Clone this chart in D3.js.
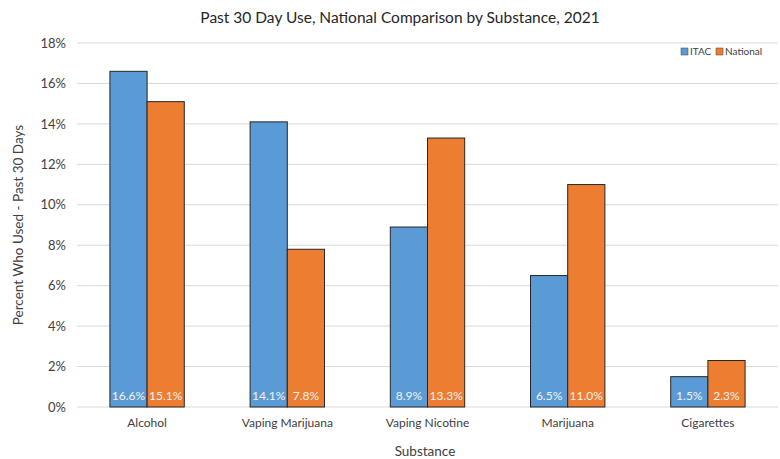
<!DOCTYPE html>
<html><head><meta charset="utf-8">
<script src="https://cdn.jsdelivr.net/npm/d3@7"></script>
<style>body{margin:0;background:#fff;font-family:Lato,"Open Sans",sans-serif;}</style>
</head><body>
<svg id="c" width="780" height="459"></svg>
<script>
const categories = ["Alcohol","Vaping Marijuana","Vaping Nicotine","Marijuana","Cigarettes"];
const seriesNames = ["ITAC","National"];
const itac = [16.6,14.1,8.9,6.5,1.5];
const national = [15.1,7.8,13.3,11.0,2.3];
const yTicks = [0,2,4,6,8,10,12,14,16,18];
const colors = ["#5B9BD5","#ED7D31"];

const svg = d3.select("#c");
const m = {l:77, r:2, t:43, b:52};
const W = 780, H = 459;
const x = d3.scaleBand().domain(categories).range([m.l, W-m.r]).paddingInner(0).paddingOuter(0);
const x1 = d3.scaleBand().domain(seriesNames).range([0, x.bandwidth()]).paddingInner(0).paddingOuter(0.885);
const y = d3.scaleLinear().domain([0,18]).range([H-m.b, m.t]);

// grid
svg.append("g").selectAll("line").data(yTicks).join("line")
  .attr("x1", m.l).attr("x2", W-m.r)
  .attr("y1", d=>y(d)).attr("y2", d=>y(d))
  .attr("stroke","#d9d9d9").attr("stroke-width",1);

// y axis labels
const ya = svg.append("g").attr("transform",`translate(${m.l},0)`)
  .call(d3.axisLeft(y).tickValues(yTicks).tickFormat(d=>d+"%").tickSize(0).tickPadding(11));
ya.select(".domain").remove();
ya.selectAll("text").attr("font-family","Lato,sans-serif").attr("font-size",13).attr("fill","#404040");

// x axis labels
const xa = svg.append("g").attr("transform",`translate(0,${H-m.b})`)
  .call(d3.axisBottom(x).tickSize(0).tickPadding(11));
xa.select(".domain").remove();
xa.selectAll("text").attr("font-family","Lato,sans-serif").attr("font-size",12).attr("fill","#404040");

const data = categories.map((c,i)=>({c, vals:[{s:"ITAC",v:itac[i]},{s:"National",v:national[i]}]}));
const g = svg.append("g").selectAll("g").data(data).join("g")
  .attr("transform", d=>`translate(${x(d.c)},0)`);
g.selectAll("rect").data(d=>d.vals).join("rect")
  .attr("x", d=>x1(d.s)).attr("width", x1.bandwidth())
  .attr("y", d=>y(d.v)).attr("height", d=>y(0)-y(d.v))
  .attr("fill", (d,i)=>colors[i]).attr("stroke","#262626").attr("stroke-width",1);
g.selectAll("text").data(d=>d.vals).join("text")
  .attr("x", d=>x1(d.s)+x1.bandwidth()/2).attr("y", y(0)-7)
  .attr("text-anchor","middle").attr("font-family","Lato,sans-serif").attr("font-size",12)
  .attr("fill","#f2f2f2").text(d=>d.v.toFixed(1)+"%");

// title
svg.append("text").attr("x",400).attr("y",23).attr("text-anchor","middle")
  .attr("font-family","Lato,sans-serif").attr("font-size",15.5).attr("fill","#262626")
  .text("Past 30 Day Use, National Comparison by Substance, 2021");

// axis titles
svg.append("text").attr("x",425).attr("y",456).attr("text-anchor","middle")
  .attr("font-family","Lato,sans-serif").attr("font-size",13.5).attr("fill","#404040").text("Substance");
svg.append("text").attr("transform","translate(23,225) rotate(-90)").attr("text-anchor","middle")
  .attr("font-family","Lato,sans-serif").attr("font-size",13.5).attr("fill","#404040").text("Percent Who Used - Past 30 Days");

// legend
const lg = svg.append("g").attr("transform","translate(681,48)");
const lx = [0,35];
seriesNames.forEach((s,i)=>{
  lg.append("rect").attr("x",lx[i]).attr("y",0).attr("width",7).attr("height",7)
    .attr("fill",colors[i]).attr("stroke","#404040").attr("stroke-width",0.5);
  lg.append("text").attr("x",lx[i]+9).attr("y",7).attr("font-family","Lato,sans-serif")
    .attr("font-size",10).attr("fill","#404040").text(s);
});
</script>
</body></html>
